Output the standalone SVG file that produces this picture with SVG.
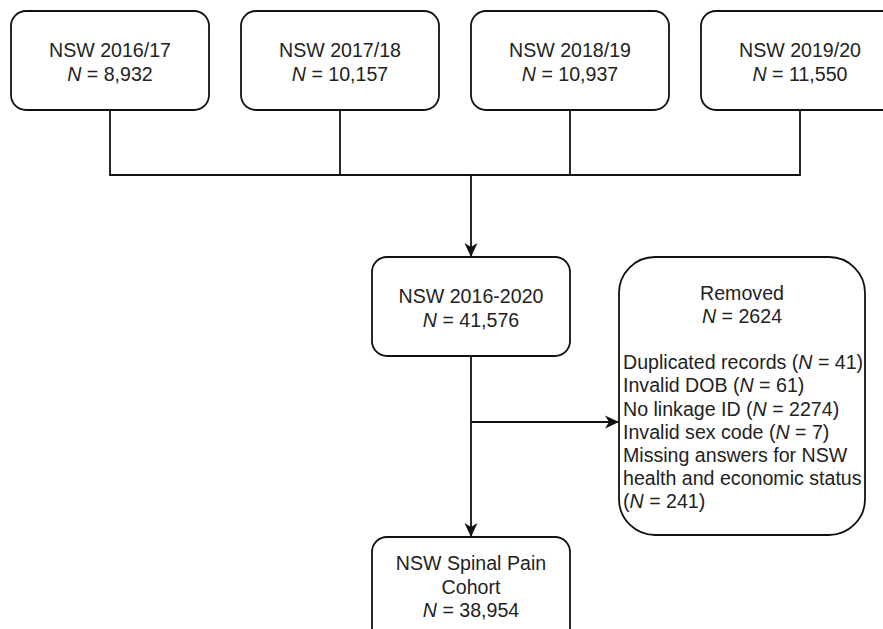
<svg xmlns="http://www.w3.org/2000/svg" width="883" height="629" viewBox="0 0 883 629">
<style>
.box{fill:#fff;stroke:#111;stroke-width:1.8}
.t{font-family:"Liberation Sans",Arial,sans-serif;font-size:19.6px;fill:#222}
.c{text-anchor:middle}
.line{fill:none;stroke:#111;stroke-width:1.8}
</style>
<defs>
<marker id="ah" viewBox="0 0 14 14" refX="14" refY="7" markerWidth="14" markerHeight="14" markerUnits="userSpaceOnUse" orient="auto">
<path d="M0,0.5 L14,7 L0,13.5 L4,7 Z" fill="#111"/>
</marker>
</defs>
<rect width="883" height="629" fill="#fff"/>
<g id="connectors">
<path class="line" d="M110,110 V175 H800 V110"/>
<path class="line" d="M340,110 V175"/>
<path class="line" d="M570,110 V175"/>
<path class="line" d="M471,175 V257" marker-end="url(#ah)"/>
<path class="line" d="M471,356 V537" marker-end="url(#ah)"/>
<path class="line" d="M471,422 H619" marker-end="url(#ah)"/>
</g>
<g id="n1">
<rect class="box" x="11" y="11" width="198" height="99" rx="15"/>
<text class="t c" x="110" y="57">NSW 2016/17</text>
<text class="t c" x="110" y="81"><tspan font-style="italic">N</tspan> = 8,932</text>
</g>
<g id="n2">
<rect class="box" x="241" y="11" width="198" height="99" rx="15"/>
<text class="t c" x="340" y="57">NSW 2017/18</text>
<text class="t c" x="340" y="81"><tspan font-style="italic">N</tspan> = 10,157</text>
</g>
<g id="n3">
<rect class="box" x="471" y="11" width="198" height="99" rx="15"/>
<text class="t c" x="570" y="57">NSW 2018/19</text>
<text class="t c" x="570" y="81"><tspan font-style="italic">N</tspan> = 10,937</text>
</g>
<g id="n4">
<rect class="box" x="701" y="11" width="198" height="99" rx="15"/>
<text class="t c" x="800" y="57">NSW 2019/20</text>
<text class="t c" x="800" y="81"><tspan font-style="italic">N</tspan> = 11,550</text>
</g>
<g id="n5">
<rect class="box" x="372" y="257" width="198" height="99" rx="15"/>
<text class="t c" x="471" y="303">NSW 2016-2020</text>
<text class="t c" x="471" y="327"><tspan font-style="italic">N</tspan> = 41,576</text>
</g>
<g id="removed">
<rect class="box" x="619" y="257" width="246" height="278" rx="36"/>
<text class="t c" x="742" y="300">Removed</text>
<text class="t c" x="742" y="323"><tspan font-style="italic">N</tspan> = 2624</text>
<text class="t" x="623" y="369">Duplicated records (<tspan font-style="italic">N</tspan> = 41)</text>
<text class="t" x="623" y="392">Invalid DOB (<tspan font-style="italic">N</tspan> = 61)</text>
<text class="t" x="623" y="416">No linkage ID (<tspan font-style="italic">N</tspan> = 2274)</text>
<text class="t" x="623" y="439">Invalid sex code (<tspan font-style="italic">N</tspan> = 7)</text>
<text class="t" x="623" y="462">Missing answers for NSW</text>
<text class="t" x="623" y="485">health and economic status</text>
<text class="t" x="623" y="508">(<tspan font-style="italic">N</tspan> = 241)</text>
</g>
<g id="n6">
<rect class="box" x="372" y="537" width="198" height="110" rx="15"/>
<text class="t c" x="471" y="570">NSW Spinal Pain</text>
<text class="t c" x="471" y="594">Cohort</text>
<text class="t c" x="471" y="617"><tspan font-style="italic">N</tspan> = 38,954</text>
</g>
</svg>
